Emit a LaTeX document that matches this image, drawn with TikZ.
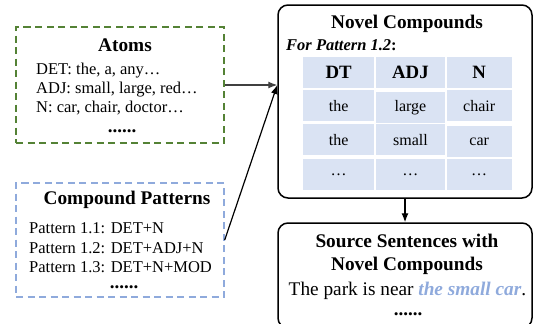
\documentclass[tikz,border=0pt]{standalone}
\usepackage{fontspec}
\setmainfont{Liberation Serif}
\usetikzlibrary{arrows.meta,positioning,matrix}
\definecolor{atomgreen}{HTML}{548235}
\definecolor{patblue}{HTML}{8FAADC}
\definecolor{cellblue}{HTML}{DAE3F3}

\begin{document}
\begin{tikzpicture}
    [x=1pt, y=-1pt, font=\fontsize{16.5}{19.4}\selectfont,
    % STYLES
    % The inbox style is used for the two dashed boxes on the left
    inbox/.style={rectangle, dash pattern=on 7pt off 4.5pt, line width=1.4pt, minimum width=208pt, inner sep=0pt},
    % The stage style is used for the rounded boxes on the right
    stage/.style={rectangle, draw, rounded corners=10pt, line width=1.5pt, minimum width=254pt, inner sep=0pt},
    boxtitle/.style={font=\fontsize{19.3}{22}\selectfont\bfseries, inner sep=0pt, anchor=base},
    itemline/.style={inner sep=0pt, anchor=base west},
    moredots/.style={inner sep=0pt, anchor=base, font=\fontsize{19}{22}\selectfont\bfseries},
    % The cell style is used for the entries of the compound table
    cell/.style={rectangle, fill=cellblue, minimum height=31pt, inner sep=0pt, font=\rmfamily\fontsize{16}{18}\selectfont}]

    \useasboundingbox (0,0) rectangle (533,324);

    % Atoms
    \node [inbox, draw=atomgreen, minimum height=116pt] (atoms) at (120,85) {};
    \node [boxtitle] (atomstitle) at (125,51) {Atoms};
    \node [itemline] (det) at (36,74) {DET: the, a, any…};
    \node [itemline] (adj) at (36,93.4) {ADJ: small, large, red…};
    \node [itemline] (noun) at (36,112.8) {N: car, chair, doctor…};
    \node [moredots] (atomsdots) at (122,132) {......};

    % Compound patterns
    \node [inbox, draw=patblue, minimum height=114pt] (patterns) at (120,240) {};
    \node [boxtitle] (patternstitle) at (127,204) {Compound Patterns};
    \node [itemline] (pat1) at (29,233) {Pattern 1.1: DET+N};
    \node [itemline] (pat2) at (29,253) {Pattern 1.2: DET+ADJ+N};
    \node [itemline] (pat3) at (29,272.5) {Pattern 1.3: DET+N+MOD};
    \node [moredots] (patternsdots) at (124,288) {......};

    % Novel compounds
    \node [stage, minimum height=193pt] (novel) at (405,101.5) {};
    \node [boxtitle] (noveltitle) at (407,28) {Novel Compounds};
    \node [itemline] (forpattern) at (286,50) {\textbf{\textit{For Pattern 1.2}:}};
    \matrix [matrix of nodes, anchor=north west, inner sep=0pt, column sep=1.5pt, row sep=1.8pt,
        nodes={cell},
        column 1/.style={nodes={minimum width=71pt}},
        column 2/.style={nodes={minimum width=69.5pt}},
        column 3/.style={nodes={minimum width=65pt}},
        row 1/.style={nodes={font=\rmfamily\fontsize{18.8}{21}\selectfont\bfseries}}]
        (compounds) at (303,57) {
        DT & ADJ & N \\
        the & large & chair \\
        the & small & car \\
        … & … & … \\
    };

    % Source sentences
    \node [stage, minimum height=105pt] (sentences) at (405,275.5) {};
    \node [boxtitle] (sentencestitle) at (407,247) {Source Sentences with};
    \node [boxtitle] (sentencestitleb) at (407,270) {Novel Compounds};
    \node [itemline, anchor=base, font=\fontsize{19.3}{22}\selectfont] (example) at (407.5,295)
        {The park is near \textcolor{patblue}{\textbf{\textit{the small car}}}.};
    \node [moredots] (sentencesdots) at (408,315) {......};

    \coordinate (novelin) at (novel.west |- atoms.east);

    \path[-{Latex[length=9pt,width=7pt]}, line width=1.2pt]
    (atoms.east) edge[draw=black!75] (novelin)
    (patterns.east) edge (novelin)
    (novel.south) edge (sentences.north);
\end{tikzpicture}
\end{document}
